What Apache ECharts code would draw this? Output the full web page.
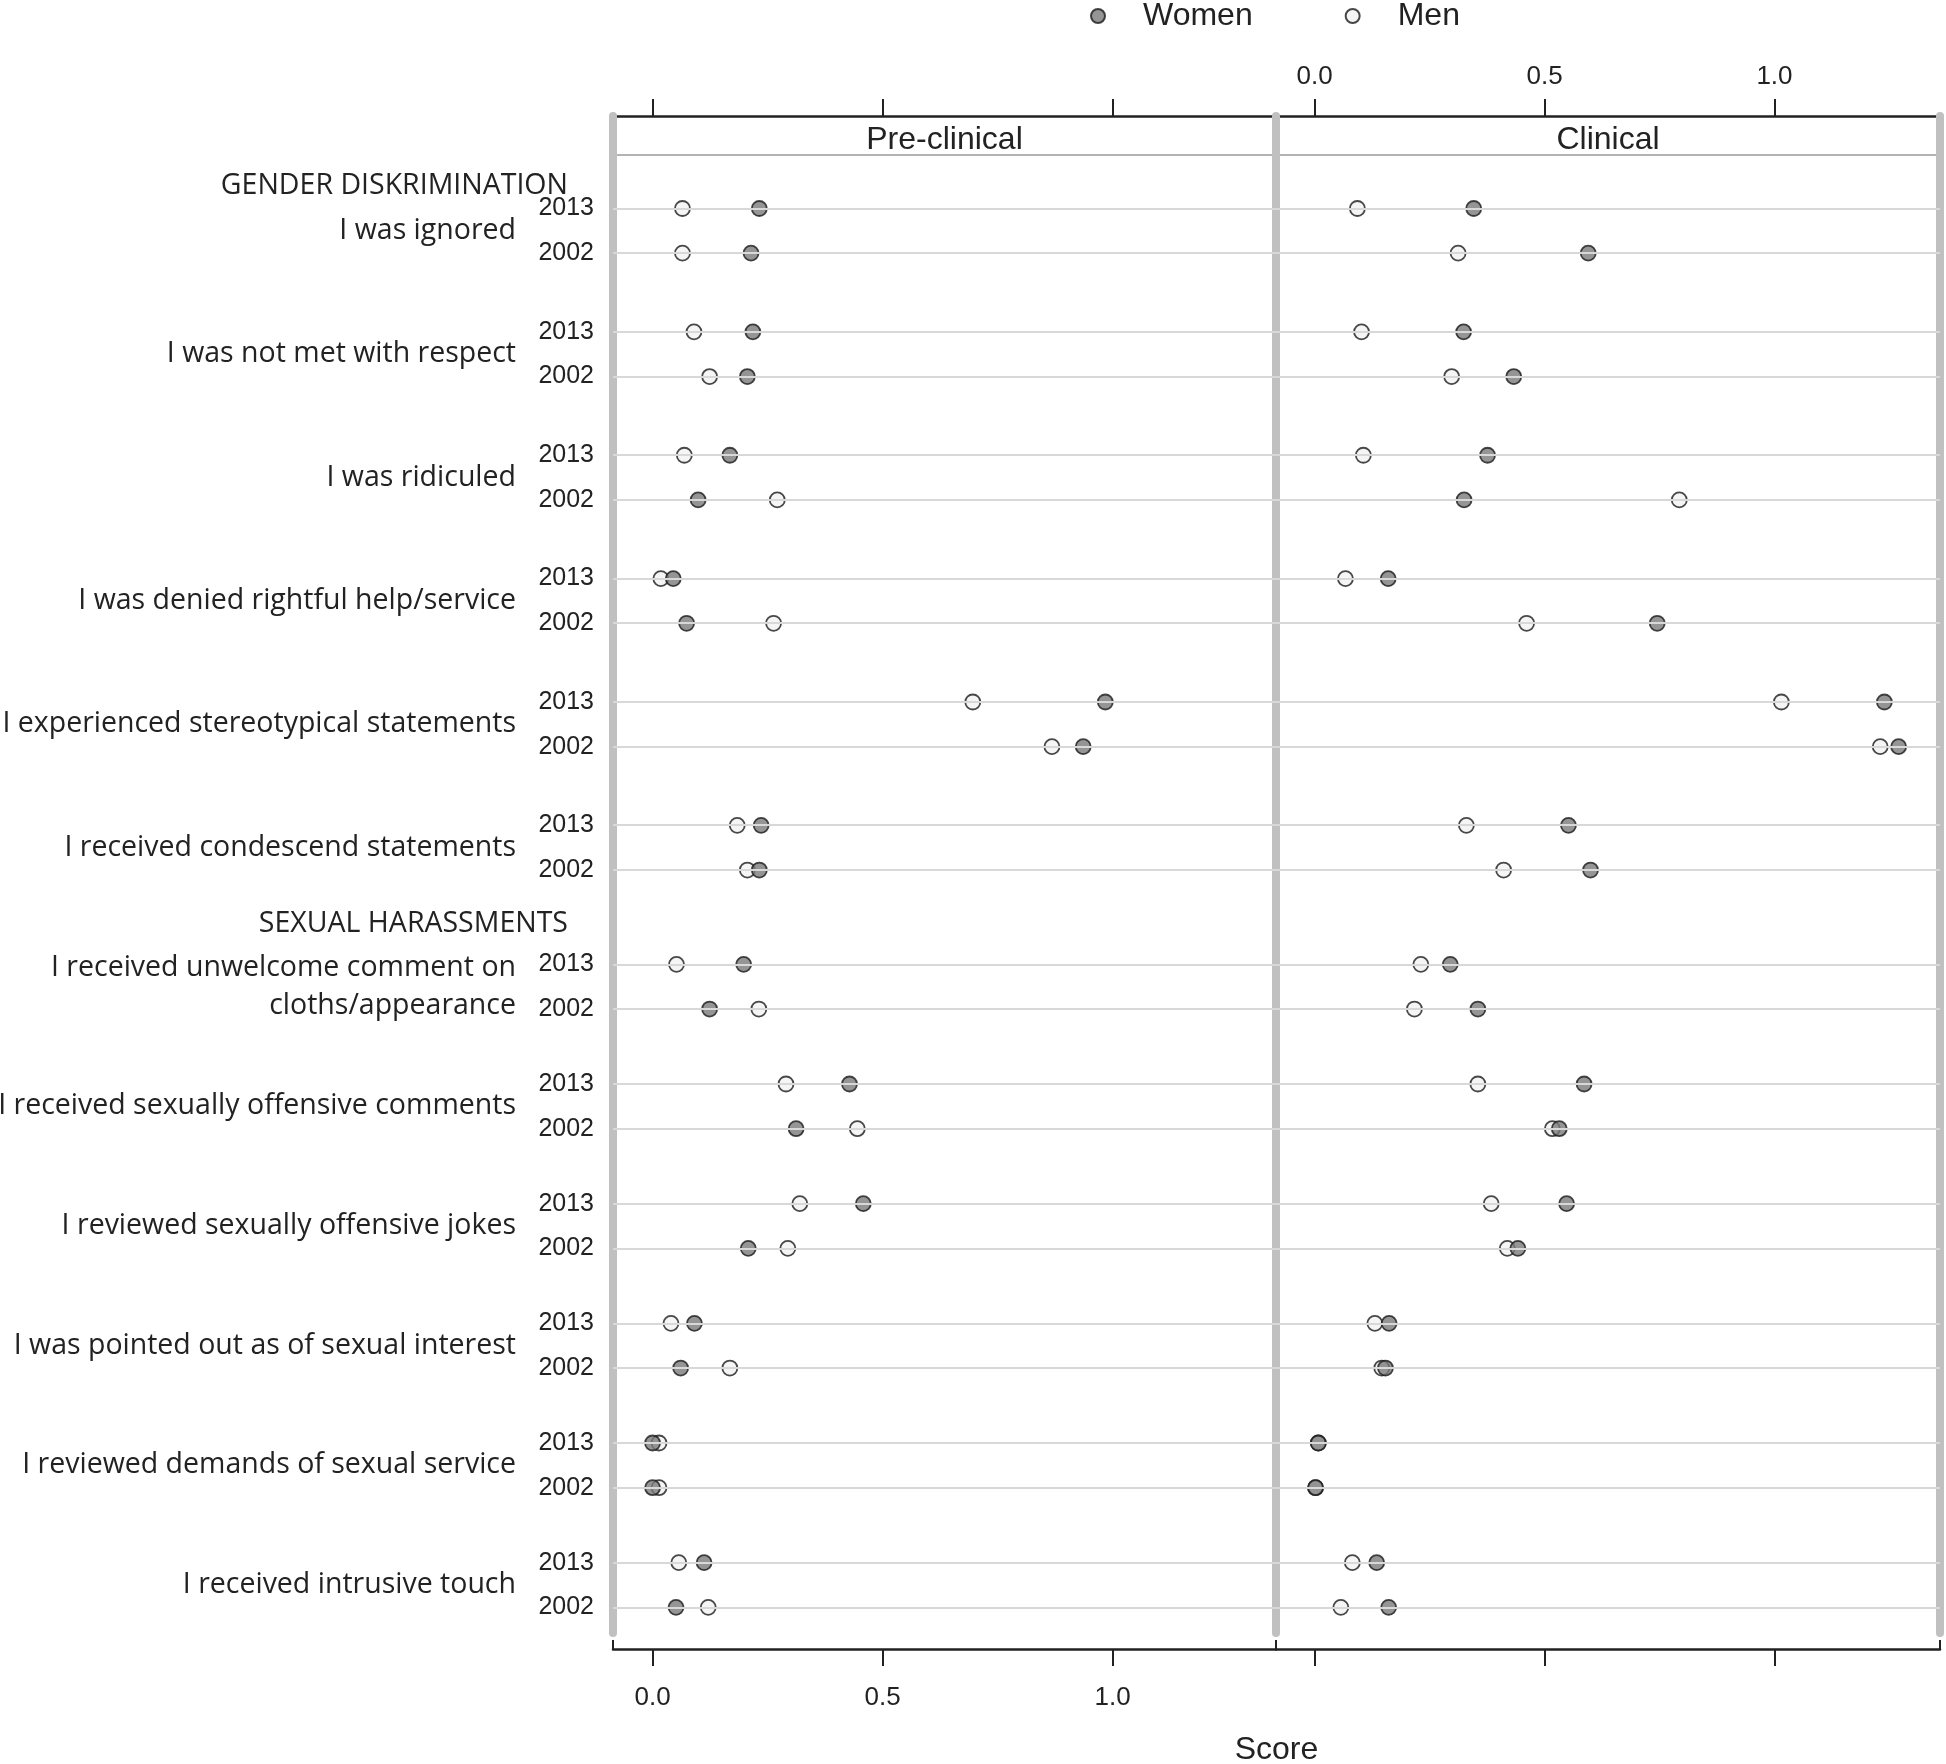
<!DOCTYPE html>
<html>
<head>
<meta charset="utf-8">
<script src="https://cdn.jsdelivr.net/npm/echarts@6/dist/echarts.min.js"></script>
<style>
  html, body { margin: 0; padding: 0; background: #ffffff; }
  #chart { width: 1946px; height: 1764px; }
</style>
</head>
<body>
<div id="chart"></div>
<script>
// ---------------- DATA ----------------
const items = [
  "I was ignored",
  "I was not met with respect",
  "I was ridiculed",
  "I was denied rightful help/service",
  "I experienced stereotypical statements",
  "I received condescend statements",
  "I received unwelcome comment on\ncloths/appearance",
  "I received sexually offensive comments",
  "I reviewed sexually offensive jokes",
  "I was pointed out as of sexual interest",
  "I reviewed demands of sexual service",
  "I received intrusive touch"
];
const sections = ["GENDER DISKRIMINATION", "SEXUAL HARASSMENTS"];
const itemSection = [0, 0, 0, 0, 0, 0, 1, 1, 1, 1, 1, 1];
const years = ["2013", "2002"];
const panels = ["Pre-clinical", "Clinical"];
const groups = ["Women", "Men"];
const xTicks = [0, 0.5, 1.0];
const axisTitle = "Score";

// Pre-clinical
const preWomen2013 = [0.232, 0.218, 0.168, 0.045, 0.984, 0.236, 0.198, 0.428, 0.458, 0.091, 0.000, 0.112];
const preWomen2002 = [0.214, 0.206, 0.099, 0.074, 0.936, 0.232, 0.124, 0.312, 0.208, 0.061, 0.000, 0.051];
const preMen2013   = [0.065, 0.090, 0.069, 0.018, 0.696, 0.184, 0.052, 0.290, 0.320, 0.040, 0.014, 0.057];
const preMen2002   = [0.065, 0.124, 0.271, 0.263, 0.868, 0.206, 0.231, 0.445, 0.294, 0.168, 0.014, 0.121];
// Clinical
const cliWomen2013 = [0.346, 0.324, 0.376, 0.160, 1.239, 0.552, 0.295, 0.586, 0.548, 0.162, 0.008, 0.135];
const cliWomen2002 = [0.595, 0.433, 0.325, 0.745, 1.270, 0.600, 0.355, 0.532, 0.442, 0.154, 0.002, 0.161];
const cliMen2013   = [0.093, 0.102, 0.106, 0.067, 1.015, 0.330, 0.231, 0.355, 0.384, 0.131, 0.008, 0.082];
const cliMen2002   = [0.312, 0.298, 0.793, 0.461, 1.230, 0.411, 0.217, 0.517, 0.419, 0.146, 0.002, 0.057];

// ---------------- LAYOUT ----------------
const SECTION_STEP = [2.761, 2.678];   // spacing between items inside a section (row units)
const SECTION_BREAK = 3.111;           // spacing across the section break
const HEADER_OFFSET = [-0.5, -0.9];
const Y_MIN = -2.07, Y_MAX = 31.88;
const X_RANGE = [[-0.086, 1.355], [-0.084, 1.36]];
const GRID = [
  { left: 613, right: 1946 - 1276, top: 116, bottom: 1764 - 1633, outerBoundsMode: 'none', containLabel: false },
  { left: 1276, right: 6, top: 116, bottom: 1764 - 1633, outerBoundsMode: 'none', containLabel: false }
];
const FONT_PLOT = "'Liberation Sans', Arial, sans-serif";
const FONT_LAB = "'Open Sans', 'Noto Sans', sans-serif";
const INK = '#222222';
const BAR = '#c0c0c0';

const itemBase = [];
items.forEach((_, i) => {
  if (i === 0) { itemBase.push(0); return; }
  const step = itemSection[i] !== itemSection[i - 1] ? SECTION_BREAK : SECTION_STEP[itemSection[i]];
  itemBase.push(itemBase[i - 1] + step);
});
function rowPos(i, yr) { return itemBase[i] + yr; }
const key = v => v.toFixed(4);

const rowVals = [], yearMap = {};
const midVals = [], itemMap = {};
items.forEach((name, i) => {
  years.forEach((y, yr) => { const v = rowPos(i, yr); rowVals.push(v); yearMap[key(v)] = y; });
  const m = rowPos(i, 0.5); midVals.push(m); itemMap[key(m)] = name;
});
const headVals = [], headMap = {};
sections.forEach((s, si) => {
  const first = itemSection.indexOf(si);
  const v = rowPos(first, 0) + HEADER_OFFSET[si];
  headVals.push(v); headMap[key(v)] = s;
});

function pts(a2013, a2002) {
  const out = [];
  items.forEach((_, i) => {
    out.push([a2013[i], rowPos(i, 0)]);
    out.push([a2002[i], rowPos(i, 1)]);
  });
  return out;
}
const panelData = [
  { Women: pts(preWomen2013, preWomen2002), Men: pts(preMen2013, preMen2002) },
  { Women: pts(cliWomen2013, cliWomen2002), Men: pts(cliMen2013, cliMen2002) }
];

// ---------------- AXES ----------------
function xAxisCfg(gi, pos, showLabels) {
  return {
    type: 'value', gridIndex: gi, position: pos,
    offset: pos === 'bottom' ? 16 : 0,
    min: X_RANGE[gi][0], max: X_RANGE[gi][1],
    axisLine: { show: true, onZero: false, lineStyle: { color: INK, width: 2.5 } },
    axisTick: { show: true, customValues: xTicks, length: 17, lineStyle: { color: INK, width: 2 } },
    axisLabel: {
      show: showLabels, customValues: xTicks,
      formatter: v => Number(v).toFixed(1),
      fontSize: 26, fontFamily: FONT_PLOT, color: INK,
      margin: pos === 'bottom' ? 36 : 26
    },
    splitLine: { show: false }
  };
}
const xAxes = [
  xAxisCfg(0, 'top', false),
  xAxisCfg(0, 'bottom', true),
  xAxisCfg(1, 'top', true),
  xAxisCfg(1, 'bottom', false)
];

function yBase(gi, pos) {
  return {
    type: 'value', gridIndex: gi, position: pos, inverse: true,
    min: Y_MIN, max: Y_MAX, z: 3,
    axisTick: { show: false }, splitLine: { show: false }
  };
}
const yAxes = [
  Object.assign(yBase(0, 'left'), {
    axisLine: { show: true, onZero: false, lineStyle: { color: BAR, width: 8 } },
    axisLabel: {
      customValues: rowVals, formatter: v => yearMap[key(v)] || '',
      margin: 19, fontSize: 25, fontFamily: FONT_PLOT, color: INK
    }
  }),
  Object.assign(yBase(0, 'left'), {
    offset: 89,
    axisLine: { show: false },
    axisLabel: {
      customValues: midVals, formatter: v => itemMap[key(v)] || '',
      margin: 8, fontSize: 28.5, lineHeight: 38, fontFamily: FONT_LAB, color: INK
    }
  }),
  Object.assign(yBase(0, 'left'), {
    offset: 37,
    axisLine: { show: false },
    axisLabel: {
      customValues: headVals, formatter: v => headMap[key(v)] || '',
      margin: 8, fontSize: 28.5, fontFamily: FONT_LAB, color: INK
    }
  }),
  Object.assign(yBase(1, 'left'), {
    axisLine: { show: true, onZero: false, lineStyle: { color: BAR, width: 8 } },
    axisLabel: { show: false }
  }),
  Object.assign(yBase(1, 'right'), {
    axisLine: { show: true, onZero: false, lineStyle: { color: BAR, width: 8 } },
    axisLabel: { show: false }
  })
];

// ---------------- SERIES ----------------
const styles = {
  Women: { color: '#7b7b7b', borderColor: '#1a1a1a', borderWidth: 1.8 },
  Men: { color: '#f2f2f2', borderColor: '#1a1a1a', borderWidth: 1.8 }
};
const series = [];
[0, 1].forEach(p => {
  const xi = p === 0 ? 1 : 3;
  const yi = p === 0 ? 0 : 3;
  series.push({
    type: 'scatter', name: '_grid' + p, xAxisIndex: xi, yAxisIndex: yi,
    data: [], silent: true, z: 1,
    markLine: {
      silent: true, symbol: ['none', 'none'], label: { show: false },
      lineStyle: { color: '#d8d8d8', width: 2, type: 'solid' },
      emphasis: { disabled: true },
      data: rowVals.map(v => ({ yAxis: v }))
    }
  });
  ['Men', 'Women'].forEach(g => {
    series.push({
      type: 'scatter', name: g, xAxisIndex: xi, yAxisIndex: yi,
      symbol: 'circle', symbolSize: 15, z: g === 'Women' ? 4 : 3,
      itemStyle: styles[g],
      data: panelData[p][g]
    });
  });
});

// ---------------- DECORATION ----------------
function txt(x, y, text, size) {
  return {
    type: 'text', x: x, y: y, silent: true,
    style: {
      text: text, font: size + 'px ' + FONT_PLOT, fill: INK,
      align: 'center', verticalAlign: 'middle',
      textAlign: 'center', textVerticalAlign: 'middle'
    }
  };
}
function seg(x1, y1, x2, y2, color, w) {
  return { type: 'line', silent: true, shape: { x1, y1, x2, y2 }, style: { stroke: color, lineWidth: w } };
}
const graphic = [
  seg(613, 155, 1940, 155, '#b4b4b4', 2),
  txt((613 + 1276) / 2, 140, panels[0], 32),
  txt((1276 + 1940) / 2, 140, panels[1], 32),
  txt((613 + 1940) / 2, 1750, axisTitle, 32),
  seg(613, 1640, 613, 1649, INK, 2),
  seg(1276, 1640, 1276, 1649, INK, 2),
  seg(1940, 1640, 1940, 1649, INK, 2)
];

const chart = echarts.init(document.getElementById('chart'), null, { renderer: 'canvas' });
chart.setOption({
  animation: false,
  backgroundColor: '#ffffff',
  legend: {
    data: groups, left: 1085, top: -5,
    itemWidth: 80, itemHeight: 14, itemGap: 92, icon: 'circle',
    selectedMode: false,
    textStyle: { fontSize: 32, fontFamily: FONT_PLOT, color: INK }
  },
  grid: GRID,
  xAxis: xAxes,
  yAxis: yAxes,
  series: series,
  graphic: graphic
});
</script>
</body>
</html>
